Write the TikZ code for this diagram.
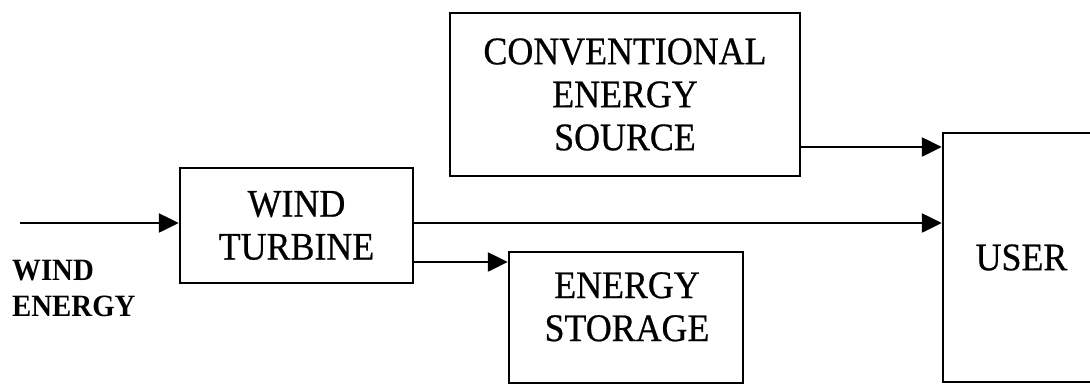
\documentclass[tikz,border=0pt]{standalone}
\usepackage{fontspec}
\setmainfont{Liberation Serif}
\newfontfamily\boxfont{Liberation Serif}[FakeStretch=0.92,FakeBold=0.6]
\newfontfamily\lblfont{Liberation Serif}[FakeStretch=0.93]
\usetikzlibrary{arrows.meta}
\tikzset{
  blk/.style={draw, line width=2.4pt, align=center, inner sep=0pt,
    font=\boxfont\fontsize{39}{43}\selectfont},
  flow/.style={line width=2.4pt, -{Triangle[length=20pt,width=19pt]}},
  lbl/.style={align=left, inner sep=0pt, font=\lblfont\bfseries\fontsize{31}{36}\selectfont}
}
\begin{document}
\begin{tikzpicture}[x=1pt,y=-1pt]
\useasboundingbox (0,0) rectangle (1090,384);
\clip (0,0) rectangle (1090,384);
\fill[white] (0,0) rectangle (1090,384);
% boxes
\node[blk, minimum width=350pt, minimum height=163pt] (conv) at (625,94.5)
  {CONVENTIONAL\\ENERGY\\SOURCE};
\node[blk, minimum width=233pt, minimum height=115pt] (turb) at (296.5,225.5)
  {WIND\\TURBINE};
\node[blk, minimum width=234pt, minimum height=131pt] (stor) at (626,317.5) {};
\node[blk, draw=none, anchor=north] (stortxt) at (627,271) {ENERGY\\STORAGE};
\node[blk, minimum width=157pt, minimum height=249pt] (user) at (1021.5,257.5) {USER};
% label
\node[lbl, anchor=north west] (wlbl) at (12,260) {WIND\\ENERGY};
% connectors
\coordinate (wstart) at (20,223);
\coordinate (ylow) at (0,262);
\coordinate (ytop) at (0,147);
\draw[flow] (wstart) -- (wstart -| turb.west);
\draw[flow] (turb.east |- wstart) -- (user.west |- wstart);
\draw[flow] (turb.east |- ylow) -- (stor.west |- ylow);
\draw[flow] (conv.east |- ytop) -- (user.west |- ytop);
\end{tikzpicture}
\end{document}
